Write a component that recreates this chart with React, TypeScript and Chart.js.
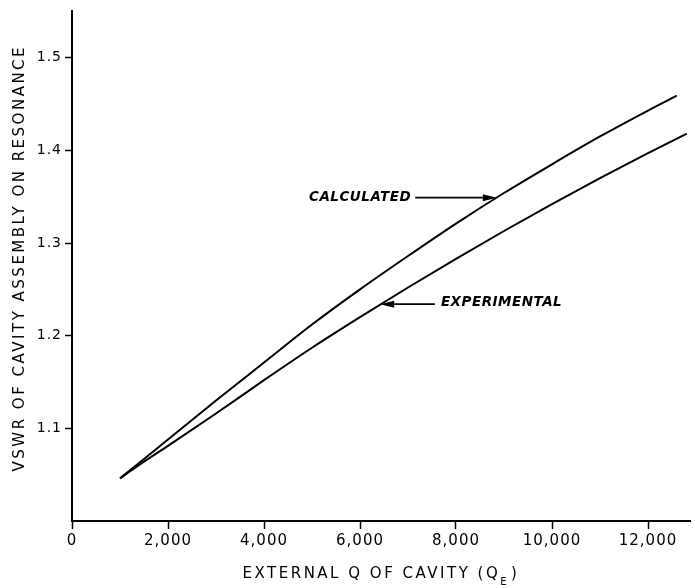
import React, { useEffect, useRef } from "react";
import { Chart, registerables } from "chart.js";

Chart.register(...registerables);

// ---- data ----
const qCalculated = [1000, 1500, 2000, 3000, 4000, 5000, 6000, 7000, 8000, 9000, 10000, 11000, 12000, 12600];
const vswrCalculated = [1.046, 1.067, 1.088, 1.13, 1.171, 1.212, 1.25, 1.286, 1.321, 1.354, 1.385, 1.415, 1.443, 1.459];

const qExperimental = [1000, 1500, 2000, 3000, 4000, 5000, 6000, 7000, 8000, 9000, 10000, 11000, 12000, 12810];
const vswrExperimental = [1.046, 1.064, 1.081, 1.116, 1.152, 1.187, 1.22, 1.252, 1.283, 1.313, 1.342, 1.37, 1.397, 1.418];

const xTicks = [0, 2000, 4000, 6000, 8000, 10000, 12000];
const xTickLabels = ["0", "2,000", "4,000", "6,000", "8,000", "10,000", "12,000"];
const yTicks = [1.1, 1.2, 1.3, 1.4, 1.5];
const yTickLabels = ["1.1", "1.2", "1.3", "1.4", "1.5"];

const xTitleMain = "EXTERNAL Q OF CAVITY (Q";
const xTitleSub = "E";
const xTitleEnd = ")";
const yTitle = "VSWR OF CAVITY ASSEMBLY ON RESONANCE";

const noteLabels = ["CALCULATED", "EXPERIMENTAL"];
const noteTipQ = [8850, 6420];
const noteTipV = [1.349, 1.234];
const noteTailQ = [7150, 7560];

const FONT = "'DejaVu Sans', 'Liberation Sans', sans-serif";

const annotationPlugin = {
  id: "notes",
  beforeDraw(chart: any) {
    (chart.ctx as any).letterSpacing = "1px";
  },
  afterDatasetsDraw(chart: any) {
    const { ctx, scales } = chart;
    const xs = scales.x;
    const ys = scales.y;
    ctx.save();
    (ctx as any).letterSpacing = "0.5px";
    ctx.fillStyle = "#000";
    ctx.strokeStyle = "#000";
    ctx.lineWidth = 1.8;
    ctx.font = `italic bold 13.5px ${FONT}`;
    ctx.textBaseline = "middle";
    for (let i = 0; i < noteLabels.length; i++) {
      const tipX = xs.getPixelForValue(noteTipQ[i]);
      const tipY = ys.getPixelForValue(noteTipV[i]);
      const tailX = xs.getPixelForValue(noteTailQ[i]);
      const dir = tipX > tailX ? 1 : -1;
      const headLen = 14;
      ctx.beginPath();
      ctx.moveTo(tailX, tipY);
      ctx.lineTo(tipX - dir * headLen, tipY);
      ctx.stroke();
      ctx.beginPath();
      ctx.moveTo(tipX, tipY);
      ctx.lineTo(tipX - dir * headLen, tipY - 3.5);
      ctx.lineTo(tipX - dir * headLen, tipY + 3.5);
      ctx.closePath();
      ctx.fill();
      if (dir > 0) {
        ctx.textAlign = "right";
        ctx.fillText(noteLabels[i], tailX - 4, tipY);
      } else {
        ctx.textAlign = "left";
        ctx.fillText(noteLabels[i], tailX + 6, tipY - 2);
      }
    }
    ctx.restore();
  },
  afterDraw(chart: any) {
    const { ctx, chartArea } = chart;
    ctx.save();
    (ctx as any).letterSpacing = "2.5px";
    ctx.fillStyle = "#000";
    ctx.textBaseline = "middle";
    ctx.textAlign = "left";
    const mainFont = `15px ${FONT}`;
    const subFont = `10px ${FONT}`;
    ctx.font = mainFont;
    const w1 = ctx.measureText(xTitleMain).width;
    const w3 = ctx.measureText(xTitleEnd).width;
    ctx.font = subFont;
    const w2 = ctx.measureText(xTitleSub).width;
    const total = w1 + w2 + w3 + 2;
    const cx = (chartArea.left + chartArea.right) / 2;
    const y = 574;
    let x = cx - total / 2;
    ctx.font = mainFont;
    ctx.fillText(xTitleMain, x, y);
    x += w1;
    ctx.font = subFont;
    ctx.fillText(xTitleSub, x, y + 8);
    x += w2 + 2;
    ctx.font = mainFont;
    ctx.fillText(xTitleEnd, x, y);

    // y-axis title, rotated
    ctx.translate(20, (chartArea.top + chartArea.bottom) / 2 - 8);
    ctx.rotate(-Math.PI / 2);
    ctx.textAlign = "center";
    ctx.font = `15px ${FONT}`;
    ctx.fillText(yTitle, 0, 0);
    ctx.restore();
    (ctx as any).letterSpacing = "0px";
  },
};

export default function App() {
  const ref = useRef<HTMLCanvasElement | null>(null);

  useEffect(() => {
    if (!ref.current) return;
    const chart = new Chart(ref.current, {
      type: "line",
      data: {
        datasets: [
          {
            label: "Calculated",
            data: qCalculated.map((q, i) => ({ x: q, y: vswrCalculated[i] })),
            borderColor: "#000",
            borderWidth: 2,
            pointRadius: 0,
            cubicInterpolationMode: "monotone",
            fill: false,
          },
          {
            label: "Experimental",
            data: qExperimental.map((q, i) => ({ x: q, y: vswrExperimental[i] })),
            borderColor: "#000",
            borderWidth: 2,
            pointRadius: 0,
            cubicInterpolationMode: "monotone",
            fill: false,
          },
        ],
      },
      options: {
        responsive: false,
        animation: false,
        layout: { padding: { top: 10, right: 5, left: 0, bottom: 0 } },
        plugins: {
          legend: { display: false },
          tooltip: { enabled: false },
        },
        scales: {
          x: {
            type: "linear",
            min: 0,
            max: 12875,
            afterBuildTicks: (scale: any) => {
              scale.ticks = xTicks.map((v) => ({ value: v }));
            },
            afterFit: (scale: any) => {
              scale.height = 67;
            },
            ticks: {
              color: "#000",
              font: { family: FONT, size: 15 },
              padding: 3,
              maxRotation: 0,
              autoSkip: false,
              callback: (v: any) => {
                const i = xTicks.indexOf(Number(v));
                return i >= 0 ? xTickLabels[i] : "";
              },
            },
            grid: {
              display: true,
              drawOnChartArea: false,
              drawTicks: true,
              tickLength: 8,
              tickColor: "#000",
              tickWidth: 1.5,
            },
            border: { display: true, color: "#000", width: 2 },
          },
          y: {
            type: "linear",
            min: 1.0,
            max: 1.55,
            afterBuildTicks: (scale: any) => {
              scale.ticks = yTicks.map((v) => ({ value: v }));
            },
            afterFit: (scale: any) => {
              scale.width = 72;
            },
            ticks: {
              color: "#000",
              font: { family: FONT, size: 14 },
              padding: 3,
              autoSkip: false,
              callback: (v: any) => {
                const i = yTicks.findIndex((t) => Math.abs(t - Number(v)) < 1e-9);
                return i >= 0 ? yTickLabels[i] : "";
              },
            },
            grid: {
              display: true,
              drawOnChartArea: false,
              drawTicks: true,
              tickLength: 7,
              tickColor: "#000",
              tickWidth: 1.5,
            },
            border: { display: true, color: "#000", width: 2 },
          },
        },
      },
      plugins: [annotationPlugin],
    } as any);
    return () => chart.destroy();
  }, []);

  return (
    <div style={{ position: "fixed", left: 0, top: 0, width: 695, height: 588, background: "#fff" }}>
      <canvas ref={ref} width={695} height={588} style={{ display: "block" }} />
    </div>
  );
}
